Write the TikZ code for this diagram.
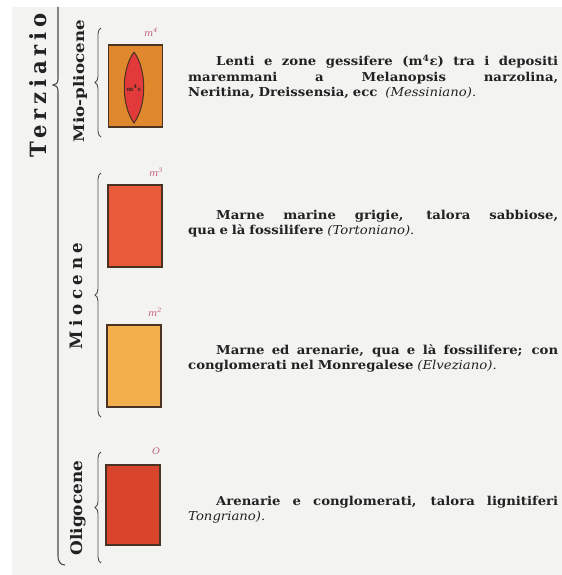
\documentclass[tikz,border=0pt]{standalone}
\usepackage{fontspec}
\setmainfont{DejaVu Serif}[FakeStretch=1.08, WordSpace=0.85]
\usepackage{graphicx}
\usetikzlibrary{decorations.pathreplacing}
\hyphenpenalty=10000\relax

\definecolor{fondo}{HTML}{F3F3F1}
\definecolor{inchiostro}{HTML}{222222}
\definecolor{bordo}{HTML}{4A3322}
\definecolor{rosasigla}{HTML}{C4607A}
\definecolor{mquattro}{HTML}{E0882E}
\definecolor{lente}{HTML}{E23A3A}
\definecolor{mtre}{HTML}{E95A3A}
\definecolor{mdue}{HTML}{F3AF4C}
\definecolor{oligo}{HTML}{D8442C}

\tikzset{
  strato/.style={draw=bordo, line width=1.2pt, minimum width=54bp, minimum height=82bp, inner sep=0pt},
  sigla/.style={text=rosasigla, font=\fontsize{9}{9}\selectfont\itshape, inner sep=0pt},
  graffa/.style={draw=black!70, line width=0.9pt, decorate, decoration={brace, amplitude=6bp}},
  descr/.style={anchor=north west, inner sep=0pt, text width=370bp, align=justify, text=inchiostro, font=\fontsize{12.3}{15.5}\selectfont\bfseries},
  periodo/.style={rotate=90, anchor=base, inner sep=0pt, text=inchiostro, font=\bfseries}
}

\begin{document}
\begin{tikzpicture}[x=1bp, y=-1bp]

    % fondo della pagina
    \useasboundingbox (0,0) rectangle (562,575);
    \fill[white] (0,0) rectangle (562,575);
    \fill[fondo] (12,7) rectangle (562,575);

    % Terziario
    \node[periodo] (terziario) at (46,85) {\resizebox{144bp}{17bp}{\addfontfeature{LetterSpace=25}Terziario}};
    \draw[black!70, line width=1.1pt] (58,7) -- (58,79) .. controls (58,83) and (56,85) .. (53,85) .. controls (56,85) and (58,87) .. (58,91) -- (58,556) .. controls (58,561) and (60,565) .. (65,565);

    % Mio-pliocene
    \node[periodo] (miopliocene) at (84,81) {\resizebox{122bp}{11bp}{Mio-pliocene}};
    \draw[graffa] (101,137) -- (101,28);
    \node[strato, fill=mquattro] (m4) at (135.5,86) {};
    \draw[draw=bordo, fill=lente, line width=1pt] (134,52) .. controls (147,70) and (147,105) .. (134,123) .. controls (121,105) and (121,70) .. (134,52);
    \node[font=\fontsize{6}{6}\selectfont\bfseries, text=bordo!80!black, inner sep=0pt] (gesso) at (134,88) {m\textsuperscript{4}ε};
    \node[sigla] (sm4) at (151,32) {m\textsuperscript{4}};
    \node[descr] (messiniano) at (188,55) {\hspace*{28bp}Lenti e zone gessifere (m\textsuperscript{4}ε) tra i depositi\linebreak maremmani a Melanopsis narzolina,\linebreak Neritina, Dreissensia, ecc\ \ {\mdseries\itshape (Messiniano).}};

    % Miocene
    \node[periodo] (miocene) at (82,296) {\resizebox{107bp}{13bp}{\addfontfeature{LetterSpace=30}Miocene}};
    \draw[graffa] (101,417) -- (101,173);
    \node[strato, fill=mtre] (m3) at (135,226) {};
    \node[sigla] (sm3) at (156,172) {m\textsuperscript{3}};
    \node[descr] (tortoniano) at (188,210) {\hspace*{28bp}Marne marine grigie, talora sabbiose,\linebreak qua e là fossilifere {\mdseries\itshape (Tortoniano).}};

    \node[strato, fill=mdue] (m2) at (134,366) {};
    \node[sigla] (sm2) at (155,312) {m\textsuperscript{2}};
    \node[descr] (elveziano) at (188,344) {\hspace*{28bp}Marne ed arenarie, qua e là fossilifere; con\linebreak conglomerati nel Monregalese {\mdseries\itshape (Elveziano).}};

    % Oligocene
    \node[periodo] (oligocene) at (82,508) {\resizebox{95bp}{12bp}{Oligocene}};
    \draw[graffa] (101,563) -- (101,452);
    \node[strato, fill=oligo, minimum height=80bp] (ol) at (133,505) {};
    \node[sigla] (sol) at (156,451) {O};
    \node[descr] (tongriano) at (188,496) {\hspace*{28bp}Arenarie e conglomerati, talora lignitiferi\linebreak {\mdseries\itshape Tongriano).}};

\end{tikzpicture}
\end{document}
